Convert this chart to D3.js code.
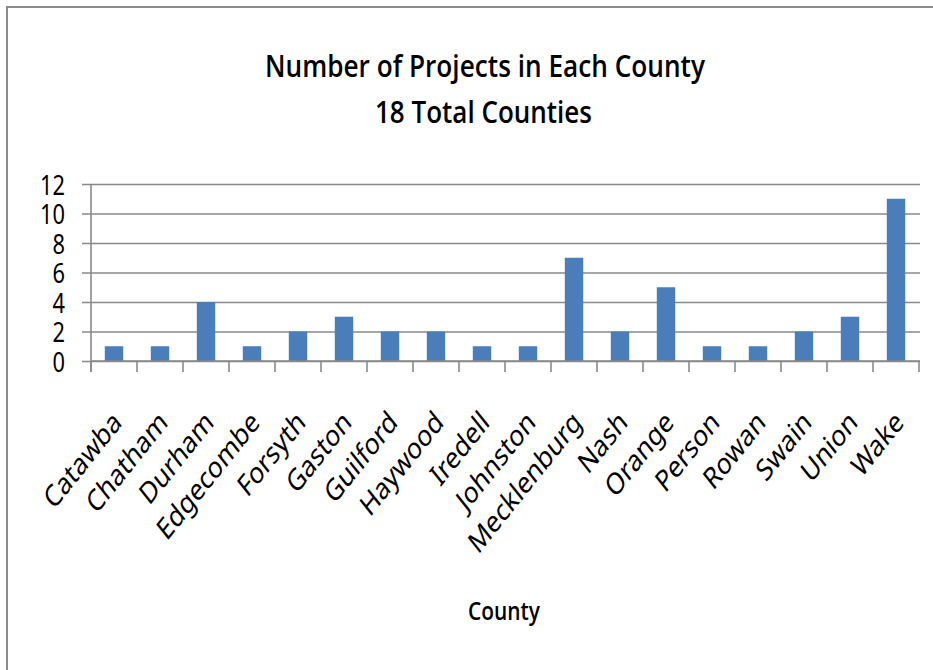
<!DOCTYPE html>
<html>
<head>
<meta charset="utf-8">
<script src="https://cdn.jsdelivr.net/npm/d3@7"></script>
<style>
  html, body { margin: 0; padding: 0; background: #fff; }
  svg { display: block; font-family: "Noto Sans", "Open Sans", sans-serif; }
</style>
</head>
<body>
<svg id="chart" width="933" height="670"></svg>
<script>
// ---- data ----
const counties = ["Catawba","Chatham","Durham","Edgecombe","Forsyth","Gaston","Guilford","Haywood","Iredell","Johnston","Mecklenburg","Nash","Orange","Person","Rowan","Swain","Union","Wake"];
const projects = [1,1,4,1,2,3,2,2,1,1,7,2,5,1,1,2,3,11];
const yTicks = [0,2,4,6,8,10,12];
const titleLines = ["Number of Projects in Each County", "18 Total Counties"];
const xAxisTitle = "County";

(function () {
// ---- layout ----
const svg = d3.select("#chart");
const plotLeft = 91, plotRight = 919, plotTop = 184, plotBottom = 361;
const gridColor = "#898989";
const barColor = "#4A7EBB";

// chart border
svg.append("path")
  .attr("d", "M7,680 L7,7 L945,7")
  .attr("fill", "none").attr("stroke", "#8c8c8c").attr("stroke-width", 2);

const x = d3.scaleBand().domain(counties).range([plotLeft, plotRight])
  .paddingInner(0.6).paddingOuter(0.3);
const y = d3.scaleLinear().domain([0, 12]).range([plotBottom, plotTop]);
const step = x.step();
const x0 = x.range()[0];

// grid lines + left ticks via axis
const yAxis = d3.axisLeft(y).tickValues(yTicks).tickSize(-(plotRight - plotLeft + 1)).tickSizeOuter(0).tickPadding(0).tickFormat(d3.format("d"));
const gy = svg.append("g").attr("transform", `translate(${plotLeft},0)`).call(yAxis);
gy.select(".domain").remove();
gy.selectAll(".tick line").attr("stroke", gridColor).attr("stroke-width", 1.6).attr("x1", -9);
gy.selectAll(".tick text")
  .attr("x", 0).attr("dy", "0.36em")
  .attr("transform", "translate(-26,0) scale(0.78,1)")
  .attr("fill", "#000").attr("font-size", 28)
  .style("font-family", "'Noto Sans', sans-serif");

// bars
svg.append("g").selectAll("rect").data(counties).join("rect")
  .attr("x", d => x(d))
  .attr("width", x.bandwidth())
  .attr("y", (d, i) => y(projects[i]))
  .attr("height", (d, i) => y(0) - y(projects[i]))
  .attr("fill", barColor);

// axes lines
svg.append("line").attr("x1", plotLeft).attr("x2", plotLeft).attr("y1", plotTop).attr("y2", plotBottom + 11)
  .attr("stroke", gridColor).attr("stroke-width", 1.6);
svg.append("line").attr("x1", plotLeft).attr("x2", plotRight + 1).attr("y1", plotBottom).attr("y2", plotBottom)
  .attr("stroke", gridColor).attr("stroke-width", 1.6);
// category boundary ticks
const boundaries = d3.range(counties.length + 1).map(i => x0 + i * step);
svg.append("g").selectAll("line").data(boundaries).join("line")
  .attr("x1", d => d).attr("x2", d => d).attr("y1", plotBottom).attr("y2", plotBottom + 11)
  .attr("stroke", gridColor).attr("stroke-width", 1.6);

// x labels
svg.append("g").selectAll("text").data(counties).join("text")
  .attr("transform", d => `translate(${x(d) + x.bandwidth() / 2 + 9},424) scale(0.8,1) rotate(-45)`)
  .attr("text-anchor", "end")
  .attr("font-size", 30)
  .attr("fill", "#000")
  .text(d => d);

// titles
const titleFont = "'Open Sans', 'Noto Sans', sans-serif";
svg.append("text").attr("x", 485).attr("y", 77).attr("text-anchor", "middle")
  .attr("font-size", 31).attr("font-weight", 600).style("font-family", titleFont)
  .attr("textLength", 440).attr("lengthAdjust", "spacingAndGlyphs")
  .text(titleLines[0]);
svg.append("text").attr("x", 483.5).attr("y", 123).attr("text-anchor", "middle")
  .attr("font-size", 31).attr("font-weight", 600).style("font-family", titleFont)
  .attr("textLength", 217).attr("lengthAdjust", "spacingAndGlyphs")
  .text(titleLines[1]);
svg.append("text").attr("x", 504).attr("y", 620).attr("text-anchor", "middle")
  .attr("font-size", 25).attr("font-weight", 600).style("font-family", titleFont)
  .attr("textLength", 72).attr("lengthAdjust", "spacingAndGlyphs")
  .text(xAxisTitle);
})();
</script>
</body>
</html>
